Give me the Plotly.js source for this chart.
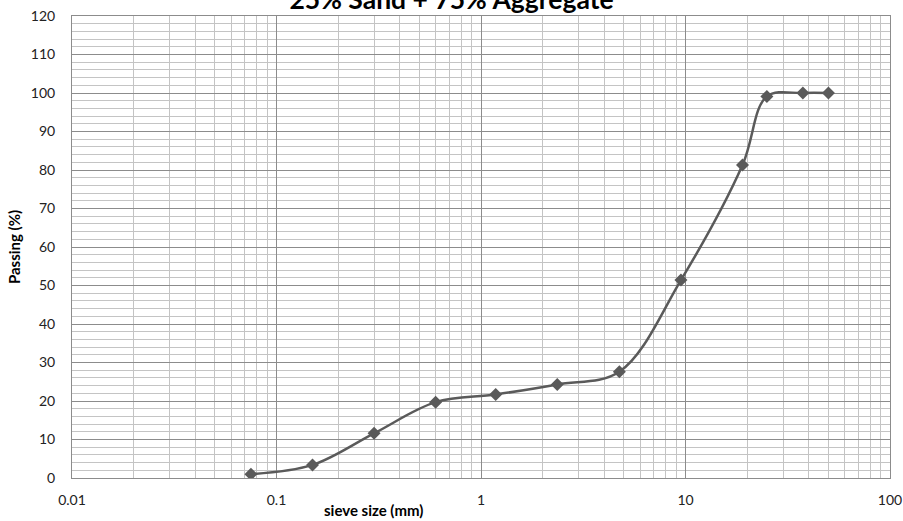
<!DOCTYPE html>
<html>
<head>
<meta charset="utf-8">
<script src="https://cdn.plot.ly/plotly-3.0.1.min.js"></script>
<style>
  html, body { margin: 0; padding: 0; background: #ffffff; }
  #chart { width: 903px; height: 521px; }
</style>
</head>
<body>
<div id="chart"></div>
<script>
// Sieve analysis: 25% sand + 75% aggregate blend
const sieveSizes = [0.075, 0.15, 0.3, 0.6, 1.18, 2.36, 4.75, 9.5, 19, 25, 37.5, 50];
const passing = [1.0, 3.4, 11.6, 19.7, 21.7, 24.3, 27.6, 51.4, 81.3, 99.1, 100, 100];

const xTickVals = [0.01, 0.1, 1, 10, 100];
const xTickText = ['0.01', '0.1', '1', '10', '100'];

const chartTitle = '25% Sand + 75% Aggregate';
const xTitle = 'sieve size (mm)';
const yTitle = 'Passing (%)';

const baseFont = 'Lato, "Open Sans", "DejaVu Sans", sans-serif';
const curveColor = '#5a5a5a';
const majorGrid = '#8c8c8c';
const minorGrid = '#c4c4c4';
const hiddenTick = 'rgba(0,0,0,0)';

const trace = {
  x: sieveSizes,
  y: passing,
  type: 'scatter',
  mode: 'lines+markers',
  line: { color: curveColor, width: 2.5, shape: 'spline', smoothing: 1 },
  marker: { symbol: 'diamond', size: 10, color: curveColor },
  hoverinfo: 'x+y'
};

const layout = {
  width: 903,
  height: 521,
  margin: { l: 72, r: 13, t: 16, b: 43 },
  paper_bgcolor: '#ffffff',
  plot_bgcolor: '#ffffff',
  showlegend: false,
  font: { family: baseFont, size: 14, color: '#222222' },
  title: {
    text: chartTitle,
    font: { family: baseFont, size: 26.5, color: '#000000', weight: 'bold' },
    x: 0.5, xref: 'container', xanchor: 'center',
    y: 1, yref: 'container', yanchor: 'middle'
  },
  xaxis: {
    type: 'log',
    range: [-2, 2],
    tickmode: 'array',
    tickvals: xTickVals,
    ticktext: xTickText,
    ticks: 'outside',
    ticklen: 9,
    tickcolor: hiddenTick,
    tickfont: { family: baseFont, size: 14, color: '#222222' },
    showgrid: true,
    gridcolor: majorGrid,
    gridwidth: 1,
    minor: { dtick: 'D1', showgrid: true, gridcolor: minorGrid, gridwidth: 1, ticks: '' },
    showline: true,
    linecolor: majorGrid,
    linewidth: 1,
    mirror: true,
    zeroline: false,
    fixedrange: true
  },
  yaxis: {
    range: [0, 120],
    dtick: 10,
    tick0: 0,
    ticks: 'outside',
    ticklen: 13,
    tickcolor: hiddenTick,
    tickfont: { family: baseFont, size: 14, color: '#222222' },
    showgrid: true,
    gridcolor: majorGrid,
    gridwidth: 1,
    minor: { dtick: 2, showgrid: true, gridcolor: minorGrid, gridwidth: 1, ticks: '' },
    showline: true,
    linecolor: majorGrid,
    linewidth: 1,
    mirror: true,
    zeroline: false,
    fixedrange: true,
    title: {
      text: yTitle,
      font: { family: baseFont, size: 15, color: '#000000', weight: 'bold' },
      standoff: 6
    }
  },
  annotations: [
    {
      text: xTitle,
      xref: 'paper', yref: 'paper',
      x: 0.368, y: -0.069,
      xanchor: 'center', yanchor: 'middle',
      showarrow: false,
      font: { family: baseFont, size: 15, color: '#000000', weight: 'bold' }
    }
  ]
};

Plotly.newPlot('chart', [trace], layout, { displayModeBar: false, staticPlot: true });
</script>
</body>
</html>
